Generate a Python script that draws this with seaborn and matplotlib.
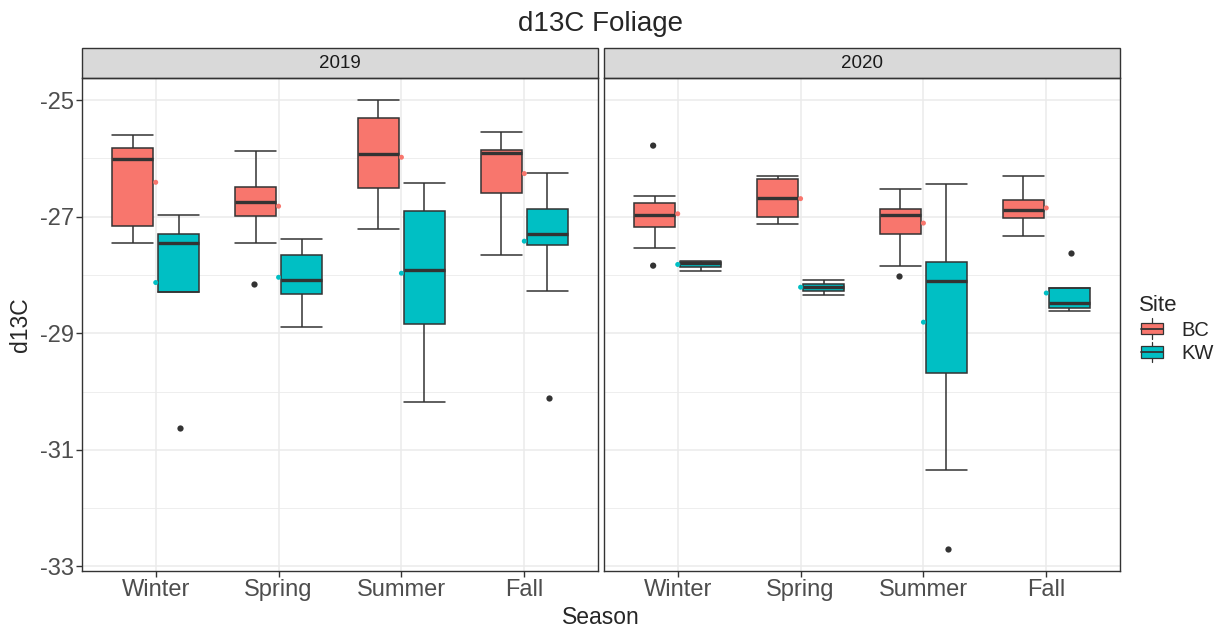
'''
    d13C of foliage by season and site, faceted by year
'''

# --
# Dependancies

import matplotlib
matplotlib.use('Agg')
import matplotlib.pyplot as plt
import seaborn as sns
from matplotlib.patches import Rectangle, Patch
from matplotlib.lines import Line2D
from matplotlib.legend_handler import HandlerBase

import pandas as pd
import numpy as np

# --
# Data (box summaries)

years = ['2019', '2020']
seasons = ['Winter', 'Spring', 'Summer', 'Fall']
sites = ['BC', 'KW']

# order: year -> season -> site  (2019 Winter BC, 2019 Winter KW, 2019 Spring BC, ...)
whisker_hi = [-25.60, -26.97, -25.87, -27.39, -25.00, -26.42, -25.54, -26.25,
              -26.65, -27.76, -26.31, -28.09, -26.52, -26.44, -26.30, -28.23]
box_hi = [-25.82, -27.29, -26.49, -27.65, -25.31, -26.90, -25.86, -26.86,
          -26.76, -27.77, -26.36, -28.16, -26.86, -27.78, -26.72, -28.23]
median = [-26.01, -27.45, -26.75, -28.09, -25.93, -27.92, -25.90, -27.30,
          -26.97, -27.80, -26.68, -28.21, -26.97, -28.10, -26.88, -28.48]
box_lo = [-27.16, -28.29, -26.98, -28.32, -26.50, -28.84, -26.59, -27.48,
          -27.17, -27.86, -27.01, -28.28, -27.29, -29.68, -27.02, -28.56]
whisker_lo = [-27.46, -28.29, -27.46, -28.89, -27.21, -30.18, -27.66, -28.28,
              -27.54, -27.93, -27.12, -28.34, -27.85, -31.35, -27.33, -28.62]
means = [-26.41, -28.13, -26.82, -28.04, -25.98, -27.97, -26.26, -27.42,
         -26.95, -27.82, -26.69, -28.21, -27.11, -28.81, -26.85, -28.31]

out_year = ['2019', '2019', '2019', '2020', '2020', '2020', '2020', '2020']
out_season = ['Winter', 'Spring', 'Fall', 'Winter', 'Winter', 'Summer', 'Summer', 'Fall']
out_site = ['KW', 'BC', 'KW', 'BC', 'BC', 'BC', 'KW', 'KW']
out_value = [-30.63, -28.15, -30.11, -25.78, -27.84, -28.01, -32.71, -27.63]

pal = {'BC': '#F8766D', 'KW': '#00BFC4'}
dark = '#333333'

# --
# Frames

groups = [(y, s, t) for y in years for s in seasons for t in sites]
summ = pd.DataFrame(groups, columns=['Year', 'Season', 'Site'])
summ['whisker_lo'] = whisker_lo
summ['box_lo'] = box_lo
summ['median'] = median
summ['box_hi'] = box_hi
summ['whisker_hi'] = whisker_hi
summ['mean'] = means

box_df = summ.melt(id_vars=['Year', 'Season', 'Site'],
                   value_vars=['whisker_lo', 'box_lo', 'median', 'box_hi', 'whisker_hi'],
                   value_name='d13C')
mean_df = summ.rename(columns={'mean': 'd13C'})
out_df = pd.DataFrame({'Year': out_year, 'Season': out_season,
                       'Site': out_site, 'd13C': out_value})

# --
# Legend key: small boxplot glyph

class BoxKey(HandlerBase):
    def create_artists(self, legend, orig_handle, xdescent, ydescent,
                       width, height, fontsize, trans):
        x0, y0 = -xdescent, -ydescent
        fc = orig_handle.get_facecolor()
        rect = Rectangle((x0 + 0.08 * width, y0 + 0.22 * height), 0.84 * width, 0.56 * height,
                         facecolor=fc, edgecolor=dark, lw=0.9, transform=trans)
        med = Line2D([x0 + 0.08 * width, x0 + 0.92 * width], [y0 + 0.5 * height] * 2,
                     color=dark, lw=1.3, transform=trans)
        top = Line2D([x0 + 0.5 * width] * 2, [y0 + 0.78 * height, y0 + 1.0 * height],
                     color=dark, lw=0.9, transform=trans)
        bot = Line2D([x0 + 0.5 * width] * 2, [y0, y0 + 0.22 * height],
                     color=dark, lw=0.9, transform=trans)
        return [rect, med, top, bot]

# --
# Plot

sns.set_theme(style='white')
plt.rcParams['font.family'] = ['Liberation Sans', 'DejaVu Sans']
plt.rcParams['axes.unicode_minus'] = False

fig, axes = plt.subplots(1, 2, figsize=(12.2, 6.27), dpi=100, sharey=True)
fig.subplots_adjust(left=82 / 1220, right=1120 / 1220, bottom=1 - 571 / 627,
                    top=1 - 78 / 627, wspace=6 / 516)

for ax, yr in zip(axes, years):
    sns.boxplot(data=box_df[box_df.Year == yr], x='Season', y='d13C', hue='Site',
                order=seasons, hue_order=sites, palette=pal, saturation=1,
                width=0.75, gap=0.1, whis=np.inf, linecolor=dark, linewidth=1.1,
                medianprops=dict(color=dark, linewidth=2.4),
                capwidths=0.3375, legend=False, ax=ax)
    sns.stripplot(data=out_df[out_df.Year == yr], x='Season', y='d13C', hue='Site',
                  order=seasons, hue_order=sites, palette={'BC': dark, 'KW': dark},
                  dodge=True, jitter=False, size=4.5, legend=False, ax=ax)
    sns.stripplot(data=mean_df[mean_df.Year == yr], x='Season', y='d13C', hue='Site',
                  order=seasons, hue_order=sites, palette=pal,
                  dodge=False, jitter=False, size=3.6, legend=False, ax=ax, zorder=5)

    ax.set_xlim(-0.6, 3.6)
    ax.set_ylim(-33.08, -24.62)
    ax.set_yticks([-25, -27, -29, -31, -33])
    ax.set_yticks([-26, -28, -30, -32], minor=True)
    ax.set_xticks(range(4))
    ax.set_xticklabels(seasons)
    ax.grid(which='major', color='#EBEBEB', lw=1.1)
    ax.grid(which='minor', axis='y', color='#EBEBEB', lw=0.6)
    ax.set_axisbelow(True)
    ax.set_xlabel('')
    ax.set_ylabel('')
    for sp in ax.spines.values():
        sp.set_visible(True)
        sp.set_color(dark)
        sp.set_linewidth(1.0)
    ax.tick_params(which='major', length=4, width=1, color=dark,
                   labelsize=17, labelcolor='#4D4D4D', pad=2,
                   bottom=True, left=True)
    ax.tick_params(which='minor', length=0)

    # facet strip
    ax.add_patch(Rectangle((0, 1), 1, 30 / 493, transform=ax.transAxes, clip_on=False,
                           facecolor='#D9D9D9', edgecolor=dark, lw=1.0))
    ax.text(0.5, 1 + 15 / 493, yr, transform=ax.transAxes, ha='center', va='center',
            fontsize=13.5, color='#1A1A1A')

axes[1].tick_params(axis='y', left=False, labelleft=False)

fig.text(601 / 1220, 1 - 24 / 627, 'd13C Foliage', ha='center', va='center', fontsize=20)
fig.text(601 / 1220, 1 - 617 / 627, 'Season', ha='center', va='center', fontsize=16.5)
fig.text(20 / 1220, 1 - 325 / 627, 'd13C', ha='center', va='center', rotation=90, fontsize=16.5)

handles = [Patch(facecolor=pal[s]) for s in sites]
leg = fig.legend(handles, sites, title='Site', loc='center left',
                 bbox_to_anchor=(1129 / 1220, 1 - 329 / 627), frameon=False,
                 fontsize=14.5, title_fontsize=16, handler_map={Patch: BoxKey()},
                 handlelength=1.3, handleheight=1.2, labelspacing=0.1,
                 handletextpad=0.8, borderpad=0, alignment='left')

plt.savefig('out.png', dpi=100)
